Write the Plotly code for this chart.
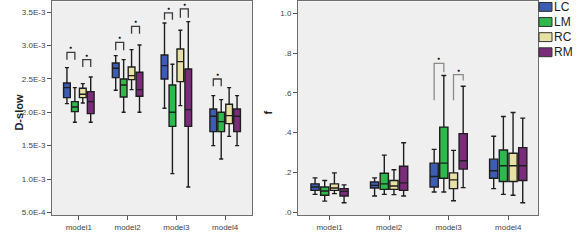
import plotly.graph_objects as go

# ---------------- data ----------------
models = ["model1", "model2", "model3", "model4"]
series = ["LC", "LM", "RC", "RM"]
colors = {"LC": "#3d5db3", "LM": "#2fb84c", "RC": "#e8e1a6", "RM": "#7a2c7b"}

# D-slow (left panel): box statistics per series, one value per model
dslow_upper = {"LC": [2.67e-3, 2.85e-3, 3.34e-3, 2.25e-3],
               "LM": [2.37e-3, 2.79e-3, 2.72e-3, 2.19e-3],
               "RC": [2.43e-3, 2.94e-3, 3.23e-3, 2.37e-3],
               "RM": [2.53e-3, 3.01e-3, 3.36e-3, 2.25e-3]}
dslow_q3 = {"LC": [2.44e-3, 2.74e-3, 2.86e-3, 2.05e-3],
            "LM": [2.16e-3, 2.50e-3, 2.41e-3, 2.00e-3],
            "RC": [2.36e-3, 2.68e-3, 2.95e-3, 2.12e-3],
            "RM": [2.31e-3, 2.60e-3, 2.65e-3, 2.05e-3]}
dslow_median = {"LC": [2.37e-3, 2.66e-3, 2.70e-3, 1.94e-3],
                "LM": [2.08e-3, 2.41e-3, 2.00e-3, 1.86e-3],
                "RC": [2.27e-3, 2.55e-3, 2.76e-3, 1.95e-3],
                "RM": [2.16e-3, 2.34e-3, 2.04e-3, 1.94e-3]}
dslow_q1 = {"LC": [2.22e-3, 2.52e-3, 2.50e-3, 1.71e-3],
            "LM": [2.01e-3, 2.23e-3, 1.79e-3, 1.71e-3],
            "RC": [2.22e-3, 2.49e-3, 2.46e-3, 1.83e-3],
            "RM": [1.98e-3, 2.24e-3, 1.79e-3, 1.71e-3]}
dslow_lower = {"LC": [2.13e-3, 2.33e-3, 2.06e-3, 1.50e-3],
               "LM": [1.85e-3, 2.00e-3, 1.08e-3, 1.30e-3],
               "RC": [2.14e-3, 2.34e-3, 2.10e-3, 1.64e-3],
               "RM": [1.85e-3, 2.00e-3, 0.88e-3, 1.50e-3]}

# f (right panel)
f_upper = {"LC": [0.173, 0.173, 0.316, 0.382],
           "LM": [0.160, 0.287, 0.687, 0.481],
           "RC": [0.198, 0.214, 0.311, 0.501],
           "RM": [0.138, 0.349, 0.633, 0.473]}
f_q3 = {"LC": [0.143, 0.152, 0.247, 0.267],
        "LM": [0.127, 0.196, 0.428, 0.313],
        "RC": [0.143, 0.160, 0.198, 0.297],
        "RM": [0.119, 0.231, 0.395, 0.325]}
f_median = {"LC": [0.127, 0.135, 0.180, 0.209],
            "LM": [0.107, 0.143, 0.247, 0.234],
            "RC": [0.122, 0.132, 0.163, 0.234],
            "RM": [0.105, 0.148, 0.259, 0.234]}
f_q1 = {"LC": [0.110, 0.122, 0.127, 0.171],
        "LM": [0.086, 0.115, 0.171, 0.155],
        "RC": [0.110, 0.115, 0.119, 0.155],
        "RM": [0.082, 0.110, 0.217, 0.160]}
f_lower = {"LC": [0.090, 0.082, 0.102, 0.119],
           "LM": [0.056, 0.090, 0.102, 0.090],
           "RC": [0.094, 0.089, 0.058, 0.086],
           "RM": [0.048, 0.082, 0.124, 0.048]}

# tick labels
dslow_ticks = [0.5e-3, 1.0e-3, 1.5e-3, 2.0e-3, 2.5e-3, 3.0e-3, 3.5e-3]
dslow_ticktext = ["5.0E-4", "1.0E-3", "1.5E-3", "2.0E-3", "2.5E-3", "3.0E-3", "3.5E-3"]
f_ticks = [0.0, 0.2, 0.4, 0.6, 0.8, 1.0]
f_ticktext = [".0", ".2", ".4", ".6", ".8", "1.0"]

# significance brackets: (model index, first series index, second series index,
#                         bar height, left leg bottom, right leg bottom)
dslow_sig = [(0, 0, 1, 2.90e-3, 2.79e-3, 2.79e-3),
             (0, 2, 3, 2.79e-3, 2.68e-3, 2.68e-3),
             (1, 0, 1, 3.05e-3, 2.93e-3, 2.93e-3),
             (1, 2, 3, 3.29e-3, 3.18e-3, 3.18e-3),
             (2, 0, 1, 3.49e-3, 3.39e-3, 3.39e-3),
             (2, 2, 3, 3.55e-3, 3.42e-3, 3.42e-3),
             (3, 0, 1, 2.50e-3, 2.39e-3, 2.39e-3)]
f_sig = [(2, 0, 1, 0.748, 0.563, 0.703),
         (2, 2, 3, 0.692, 0.563, 0.662)]

# ---------------- figure ----------------
BOXGAP = 0.35
BOXGROUPGAP = 0.15
W, H = 583, 240
FONT = "Liberation Sans, Arial, sans-serif"

fig = go.Figure()

for s in series:
    fig.add_trace(go.Box(
        x=models, q1=dslow_q1[s], median=dslow_median[s], q3=dslow_q3[s],
        lowerfence=dslow_lower[s], upperfence=dslow_upper[s],
        name=s, offsetgroup=s, fillcolor=colors[s],
        line=dict(color="#1e1e1e", width=1.4), whiskerwidth=0.6,
        boxpoints=False, xaxis="x", yaxis="y", showlegend=False,
        hoverinfo="skip"))
for s in series:
    fig.add_trace(go.Box(
        x=models, q1=f_q1[s], median=f_median[s], q3=f_q3[s],
        lowerfence=f_lower[s], upperfence=f_upper[s],
        name=s, offsetgroup=s, fillcolor=colors[s],
        line=dict(color="#1e1e1e", width=1.4), whiskerwidth=0.6,
        boxpoints=False, xaxis="x2", yaxis="y2", showlegend=False,
        hoverinfo="skip"))


def box_center(model_idx, series_idx):
    n = len(series)
    return model_idx + (1 - BOXGAP) * (-0.5 + (series_idx + 0.5) / n)


shapes = []
annotations = []
for sig, xr, yr, col in ((dslow_sig, "x", "y", "#3a3a3a"), (f_sig, "x2", "y2", "#8a8a8a")):
    for (m, a, b, top, lb, rb) in sig:
        xa = box_center(m, a)
        xb = box_center(m, b)
        shapes.append(dict(type="path", xref=xr, yref=yr,
                           path=f"M {xa} {lb} L {xa} {top} L {xb} {top} L {xb} {rb}",
                           line=dict(color=col, width=1.3)))
        annotations.append(dict(x=(xa + xb) / 2, y=top, xref=xr, yref=yr,
                                text="●", showarrow=False, yanchor="middle",
                                yshift=5, borderpad=0,
                                font=dict(size=5, color="#111", family=FONT)))

# axis titles
annotations.append(dict(x=11 / W, y=1 - 113 / H, xref="paper", yref="paper",
                        text="<b>D-slow</b>", textangle=-90, showarrow=False,
                        font=dict(size=11, color="#222", family=FONT)))
annotations.append(dict(x=268 / W, y=1 - 113 / H, xref="paper", yref="paper",
                        text="<b>f</b>", textangle=-90, showarrow=False,
                        font=dict(size=11, color="#222", family=FONT)))

# legend (drawn as swatches + real text)
for i, s in enumerate(series):
    yc = 6 + i * 15.3
    shapes.append(dict(type="rect", xref="paper", yref="paper",
                       x0=539 / W, x1=552 / W, y0=1 - (yc - 4.5) / H, y1=1 - (yc + 4.5) / H,
                       fillcolor=colors[s], line=dict(color="#333", width=1)))
    annotations.append(dict(x=552 / W, y=1 - yc / H, xref="paper", yref="paper",
                            text=s, showarrow=False, xanchor="left", yanchor="middle",
                            font=dict(size=12, color="#222", family=FONT)))

axis_common = dict(showline=True, linecolor="#6e6e6e", linewidth=1, mirror=True,
                   ticks="outside", ticklen=4, tickcolor="#555",
                   showgrid=False, zeroline=False,
                   tickfont=dict(size=8, color="#444", family=FONT))

fig.update_layout(
    width=W, height=H,
    margin=dict(l=0, r=0, t=0, b=0),
    paper_bgcolor="white",
    plot_bgcolor="#efefef",
    boxmode="group", boxgap=BOXGAP, boxgroupgap=BOXGROUPGAP,
    showlegend=False,
    shapes=shapes, annotations=annotations,
    xaxis=dict(domain=[52 / W, 252 / W], anchor="y", type="category",
               categoryorder="array", categoryarray=models, range=[-0.55, 3.55], **axis_common),
    yaxis=dict(domain=[1 - 217 / H, 1 - 0.5 / H], anchor="x", range=[0.456e-3, 3.662e-3],
               tickvals=dslow_ticks, ticktext=dslow_ticktext, **axis_common),
    xaxis2=dict(domain=[298 / W, 538 / W], anchor="y2", type="category",
                categoryorder="array", categoryarray=models, range=[-0.53, 3.5], **axis_common),
    yaxis2=dict(domain=[1 - 217 / H, 1 - 0.5 / H], anchor="x2", range=[-0.015, 1.059],
                tickvals=f_ticks, ticktext=f_ticktext, **axis_common),
)

fig.write_html("out.html",
               config={"displayModeBar": False},
               post_script="document.body.style.margin='0';document.body.style.overflow='hidden';")
